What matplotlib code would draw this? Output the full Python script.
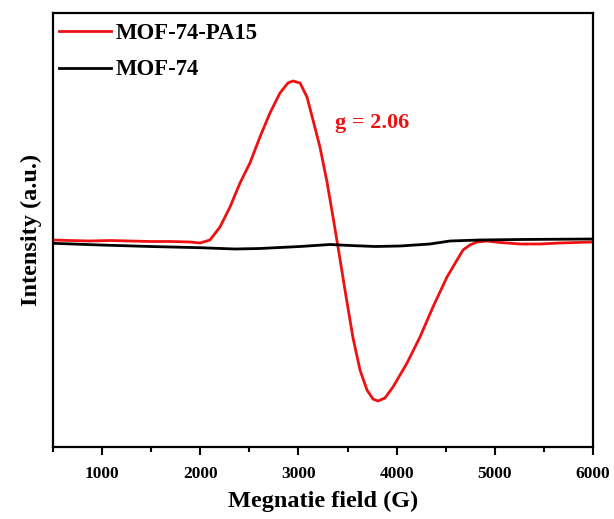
import numpy as np
import matplotlib.pyplot as plt

plt.rcParams['font.family'] = ['Liberation Serif', 'DejaVu Serif']
plt.rcParams['font.weight'] = 'bold'

# EPR spectra (field in G, intensity in arbitrary units)
field_pa15 = [500, 673, 877, 1080, 1284, 1488, 1692, 1895, 1997, 2099, 2201,
              2303, 2405, 2506, 2608, 2710, 2812, 2893, 2944, 3016, 3087, 3148,
              3219, 3291, 3352, 3398, 3423, 3494, 3556, 3627, 3698, 3759, 3810,
              3881, 3963, 4106, 4238, 4370, 4513, 4676, 4747, 4818, 4920, 5053,
              5257, 5460, 5664, 6000]
int_pa15 = [2, 1.5, 1, 1.5, 1, 0.5, 0.5, 0, -1, 2, 15,
            35, 59, 79, 105, 129, 149, 159, 161, 159, 145, 122,
            95, 60, 25, -2, -17, -60, -96, -128, -148, -157, -159,
            -156, -145, -121, -95, -65, -35, -8, -3, 0, 1, -0.5,
            -2, -2, -1, 0]

field_mof = [500, 979, 1488, 1997, 2354, 2608, 3016, 3321, 3525, 3780, 4034,
             4340, 4543, 4849, 5257, 6000]
int_mof = [-1.3, -3, -4.5, -5.7, -7, -6.5, -4.5, -2.5, -3.5, -4.5, -4,
           -2, 1, 2, 2.5, 3]

fig = plt.figure(figsize=(6.14, 5.19), dpi=100)
ax = fig.add_axes([0.0863, 0.1387, 0.8795, 0.8363])

ax.plot(field_pa15, int_pa15, color='#ee1111', lw=2.0, label='MOF-74-PA15',
        solid_joinstyle='round')
ax.plot(field_mof, int_mof, color='black', lw=2.0, label='MOF-74')

ax.set_xlim(500, 6000)
ax.set_ylim(-205, 229)
ax.set_xticks([1000, 2000, 3000, 4000, 5000, 6000])
ax.set_xticks(np.arange(500, 6001, 500), minor=True)
ax.set_yticks([])
ax.tick_params(axis='x', which='major', length=6, width=1.5, labelsize=12.5, pad=8)
ax.tick_params(axis='x', which='minor', length=3.5, width=1.5)
for s in ax.spines.values():
    s.set_linewidth(1.6)

ax.set_xlabel('Megnatie field (G)', fontsize=17.5, fontweight='bold', labelpad=6)
ax.set_ylabel('Intensity (a.u.)', fontsize=17.5, fontweight='bold', labelpad=8)

ax.text(3749, 119, 'g = 2.06', color='#ee1111', fontsize=16,
        fontweight='bold', ha='center', va='center')

ax.legend(loc='upper left', bbox_to_anchor=(0.0, 0.99), frameon=False,
          fontsize=16.4, handlelength=2.3, handletextpad=0.22, labelspacing=0.68,
          borderaxespad=0.0, borderpad=0.25)

fig.savefig('out.png', dpi=100)
